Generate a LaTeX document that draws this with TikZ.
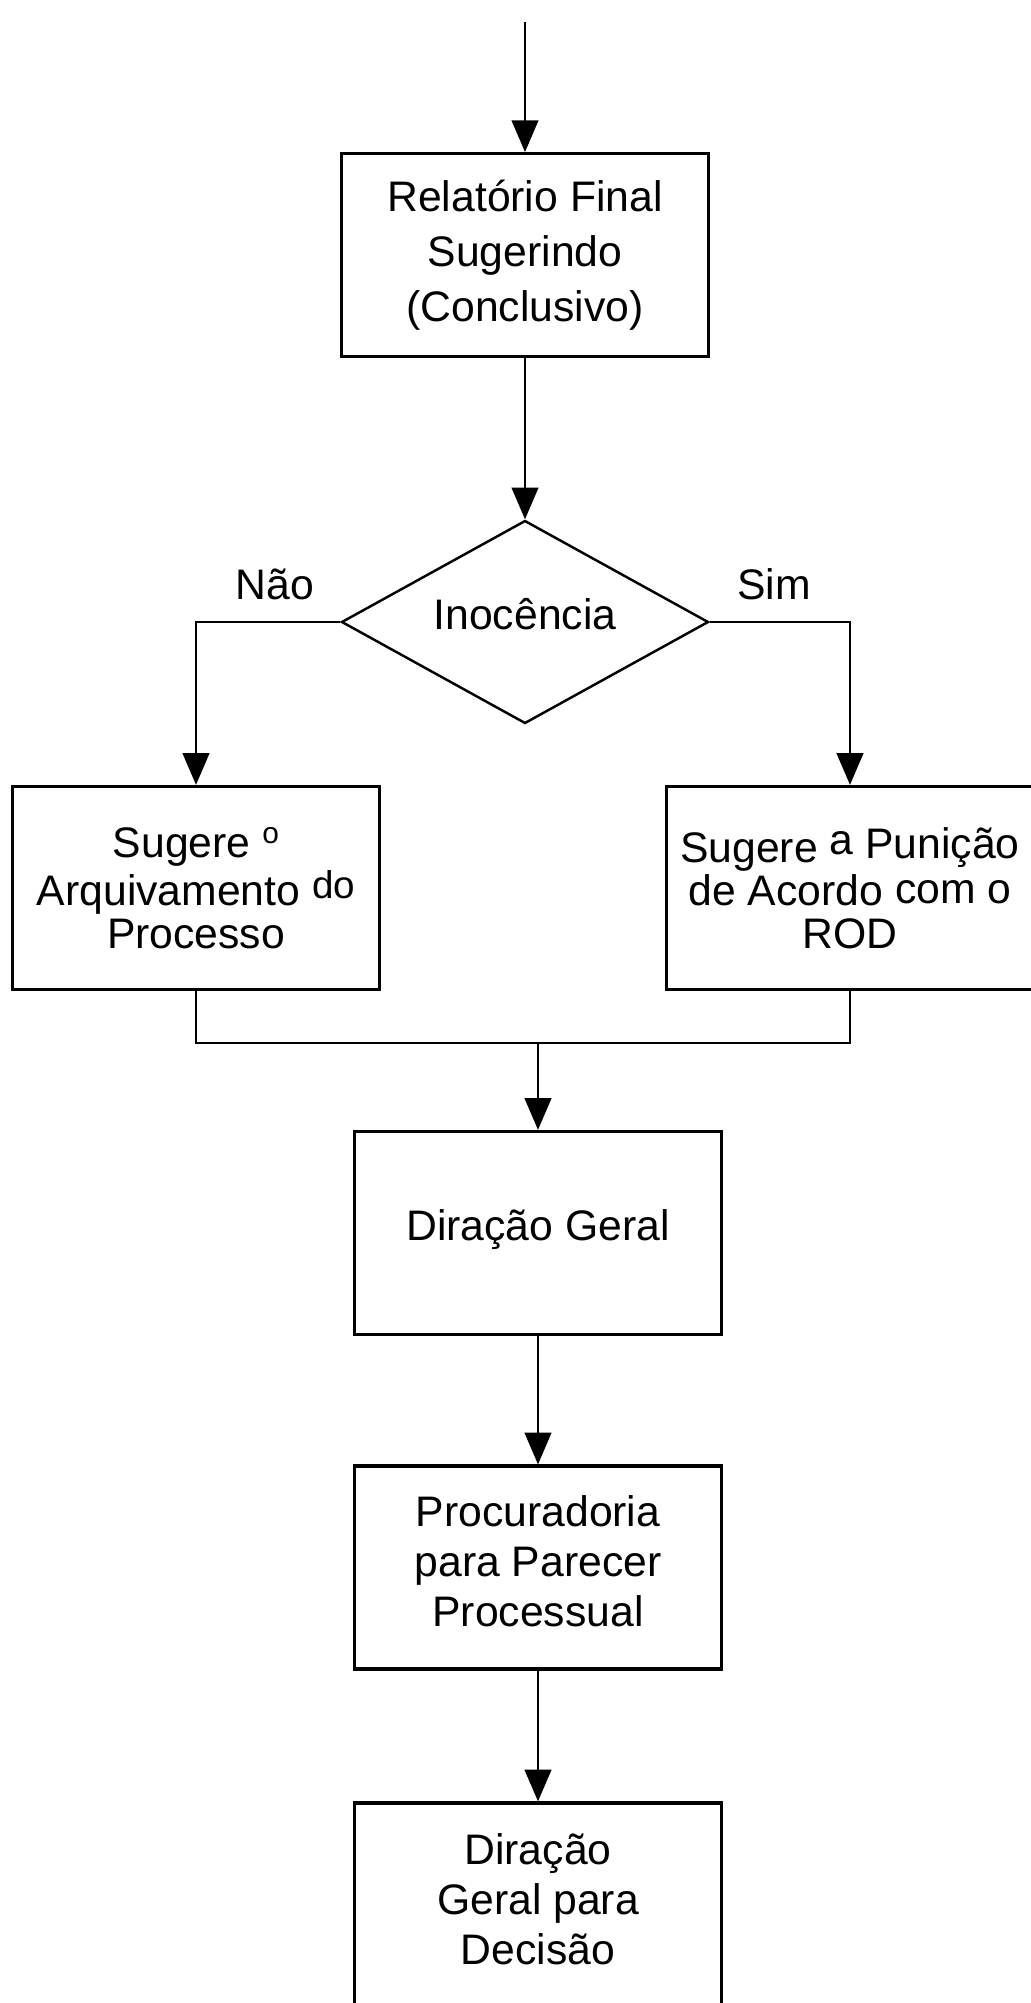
\documentclass[tikz,border=0pt]{standalone}
\usepackage{fontspec}
\setmainfont{Liberation Sans}
\usepackage{tikz}
\usetikzlibrary{positioning, arrows.meta}
\usetikzlibrary{shapes,shapes.geometric}
\tikzset{box state/.style={draw, rectangle, line width=0.95pt, minimum width=3.67cm, minimum height=2.03cm, inner sep=0pt, align=center}}
\tikzset{decision state/.style={draw, diamond, aspect=1.81, line width=0.7pt, minimum width=3.67cm, minimum height=2.03cm, inner sep=0pt}}
\tikzset{answer/.style={inner sep=0pt}}

\begin{document}
\begin{tikzpicture}[-{Triangle[length=9pt,width=7.6pt]}, line width=0.5pt, font=\fontsize{12.15}{14.2}\selectfont]
			\useasboundingbox (0,0) rectangle (10.3,-20.03);
			\coordinate (in) at (5.25,-0.22);
			\node[box state, below=1.30cm of in, font=\fontsize{12.15}{15.6}\selectfont] (rf) {Relatório Final\\Sugerindo\\(Conclusivo)};
			\node[decision state, text height=8.8pt, text depth=4.7pt] (inoc) at (5.25,-6.22) {Inocência};
			\node[answer] (nao) at (2.75,-5.84) {Não};
			\node[answer] (sim) at (7.74,-5.84) {Sim};
			\node[box state, font=\fontsize{12.15}{12.2}\selectfont] (arq) at (1.96,-8.88) {Sugere \raisebox{4pt}{\fontsize{8.5}{8.5}\selectfont o}\\Arquivamento \raisebox{2pt}{\fontsize{11}{11}\selectfont do}\\Processo};
			\node[box state, font=\fontsize{12.15}{12.2}\selectfont] (pun) at (8.5,-8.88) {Sugere \raisebox{2.4pt}{a} \raisebox{1.2pt}{Punição}\\de Acordo \raisebox{0.5pt}{com o}\\ROD};
			\coordinate (join) at (5.38,-10.43);
			\node[box state, text height=8.8pt, text depth=4.7pt] (dg) at (5.38,-12.33) {Diração Geral};
			\node[box state, text depth=3.6pt] (proc) at (5.38,-15.675) {Procuradoria\\para Parecer\\Processual};
			\node[box state, text depth=3.2pt] (dgd) at (5.38,-19.045) {Diração\\Geral para\\Decisão};

			\draw (in) -- (rf);
			\draw (rf) -- (inoc);
			\draw (inoc.west) -| (arq.north);
			\draw (inoc.east) -| (pun.north);
			\draw[-] (arq.south) |- (join) -| (pun.south);
			\draw (join) -- (dg);
			\draw (dg) -- (proc);
			\draw (proc) -- (dgd);
		\end{tikzpicture}
\end{document}
